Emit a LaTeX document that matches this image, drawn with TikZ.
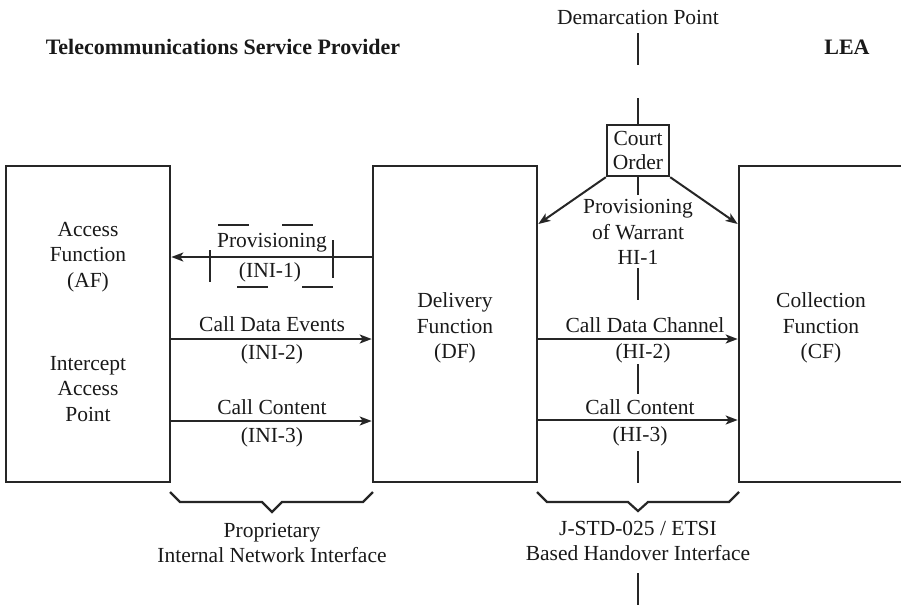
\documentclass[tikz,border=0pt]{standalone}
\usepackage{fontspec}
\setmainfont{Liberation Serif}
\usetikzlibrary{arrows.meta}
\begin{document}
\begin{tikzpicture}[x=1pt,y=-1pt,
  every node/.style={font=\fontsize{21.5}{25.5}\selectfont, align=center, inner sep=0pt, text=black!90},
  box/.style={draw=black!85, line width=2.6pt, minimum width=164pt, minimum height=316pt},
  cbox/.style={draw=black!85, line width=2.4pt, minimum width=62pt, minimum height=51pt},
  arr/.style={draw=black!85, line width=2pt, -{Stealth[length=12pt,width=9pt,inset=3pt]}},
  demarc/.style={draw=black!85, line width=2.2pt},
  brace/.style={draw=black!85, line width=2.2pt},
  tick/.style={draw=black!85, line width=2.2pt},
  hdr/.style={font=\fontsize{22}{25.5}\selectfont\bfseries}
]
\useasboundingbox (0,0) rectangle (901,605);

% headers
\node[hdr] (tsp) at (223,47) {Telecommunications Service Provider};
\node[hdr] (lea) at (847,47) {LEA};
\node (dp) at (638,17) {Demarcation Point};

% boxes
\node[box] (af) at (88,324) {};
\node[box] (df) at (455,324) {};
\node[box, minimum width=200pt] (cf) at (839,324) {};
\node[cbox] (co) at (638,150.5) {Court\\[-1.5pt]Order};

% box texts
\node (aftxt) at (88,257) {Access\\Function\\(AF)};
\node (iap) at (88,389) {Intercept\\Access\\Point};
\node (dftxt) at (455,328) {Delivery\\Function\\(DF)};
\node (cftxt) at (821,328) {Collection\\Function\\(CF)};

% demarcation line
\coordinate (d1) at (638,33);
\coordinate (d2) at (638,65);
\coordinate (d3) at (638,98);
\coordinate (d4) at (638,195);
\coordinate (d5) at (638,268);
\coordinate (d6) at (638,300);
\coordinate (d7) at (638,364);
\coordinate (d8) at (638,394);
\coordinate (d9) at (638,451);
\coordinate (d10) at (638,483);
\coordinate (d11) at (638,573);
\coordinate (d12) at (638,605);
\draw[demarc] (d1) -- (d2);
\draw[demarc] (d3) -- (co.north);
\draw[demarc] (co.south) -- (d4);
\draw[demarc] (d5) -- (d6);
\draw[demarc] (d7) -- (d8);
\draw[demarc] (d9) -- (d10);
\draw[demarc] (d11) -- (d12);

% left interfaces
\draw[arr] (df.west |- 0,257) -- (af.east |- 0,257);
\node (prov) at (272,243) {Provisioning};
\node (ini1) at (270,272) {(INI-1)};
\draw[arr] (af.east |- 0,339) -- (df.west |- 0,339);
\node (cde) at (272,324) {Call Data Events};
\node (ini2) at (272,354) {(INI-2)};
\draw[arr] (af.east |- 0,421) -- (df.west |- 0,421);
\node (cc1) at (272,407) {Call Content};
\node (ini3) at (272,437) {(INI-3)};

% stray marks around Provisioning
\draw[tick] (218,225) -- (249,225);
\draw[tick] (282,225) -- (313,225);
\draw[tick] (210,250) -- (210,282);
\draw[tick] (333,240) -- (333,278);
\draw[tick] (237,287) -- (268,287);
\draw[tick] (302,287) -- (333,287);

% right interfaces
\draw[arr] (co.south west) -- (df.east |- 0,224);
\draw[arr] (co.south east) -- (cf.west |- 0,224);
\node (pow) at (638,232) {Provisioning\\of Warrant\\HI-1};
\draw[arr] (df.east |- 0,339) -- (cf.west |- 0,339);
\node (cdc) at (645,325) {Call Data Channel};
\node (hi2) at (643,353) {(HI-2)};
\draw[arr] (df.east |- 0,420) -- (cf.west |- 0,420);
\node (cc2) at (640,407) {Call Content};
\node (hi3) at (640,436) {(HI-3)};

% braces
\draw[brace] (170,492) -- (180,502) -- (262,502) -- (272,512) -- (282,502) -- (363,502) -- (373,492);
\draw[brace] (537,492) -- (547,502) -- (628,502) -- (638,511) -- (648,502) -- (729,502) -- (739,492);
\node (pnet) at (272,543) {Proprietary\\Internal Network Interface};
\node (hand) at (638,541) {J-STD-025 / ETSI\\Based Handover Interface};
\end{tikzpicture}
\end{document}
